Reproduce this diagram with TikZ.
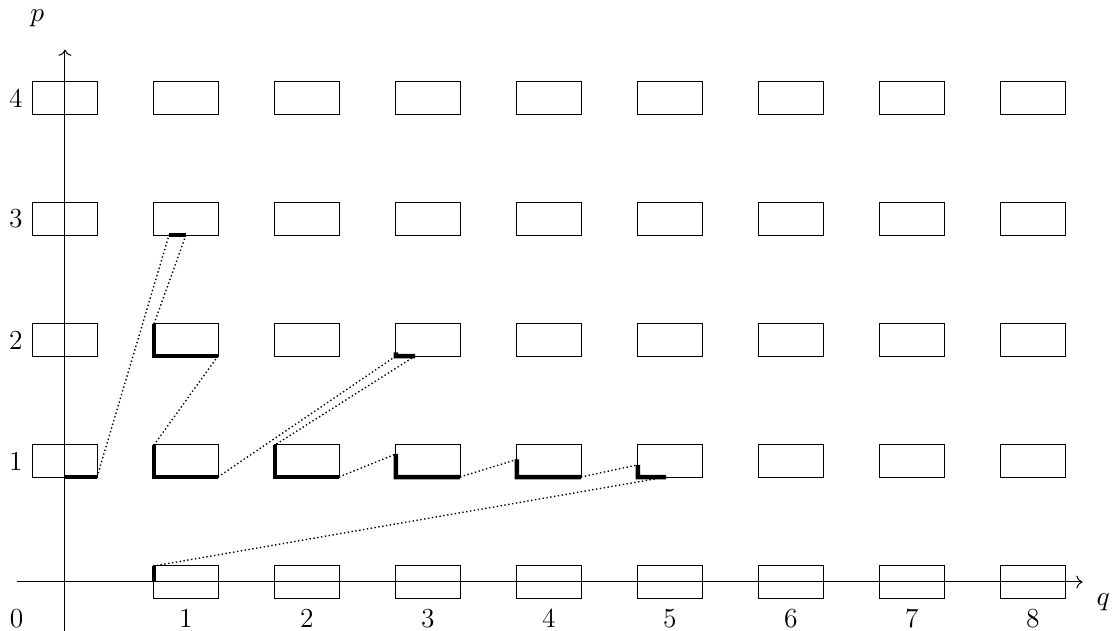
\documentclass[tikz,border=0pt]{standalone}
\usepackage{amsmath}
\usetikzlibrary{arrows.meta, calc}

\begin{document}
\begin{tikzpicture}[
    x=1.7cm, y=1.7cm,
    font=\fontsize{11}{13}\selectfont,
    box/.style={draw, rectangle, minimum width=0.9cm, minimum height=0.45cm,
                inner sep=0pt, outer sep=0pt},
    thk/.style={line width=1.8pt},
    dots/.style={densely dotted, line width=0.55pt},
    axis/.style={->, line width=0.4pt}
]
\useasboundingbox (-0.537,-0.405) rectangle (8.711,4.810);

% the lattice of boxes (none at the origin)
\foreach \q in {0,...,8}
  \foreach \p in {1,...,4}
    \node[box] (b\q\p) at (\q,\p) {};
\foreach \q in {1,...,8}
  \node[box] (b\q0) at (\q,0) {};

% axes
\coordinate (xs) at (-0.4,0);
\coordinate (xe) at (8.41,0);
\coordinate (ys) at (0,-0.41);
\coordinate (ye) at (0,4.40);
\draw[axis] (xs) -- (xe);
\draw[axis] (ys) -- (ye);

\node (lp) at (-0.23,4.66) {$p$};
\node (lq) at (8.58,-0.17) {$q$};
\node (l0) at (-0.4,-0.3) {0};
\foreach \q in {1,...,8}
  \node (lq\q) at (\q,-0.3) {\q};
\foreach \p in {1,...,4}
  \node (lp\p) at (-0.405,\p) {\p};

% thick pieces
\coordinate (s13) at ($(b13.south)+(-0.14,0)$);
\coordinate (s32a) at ($(b32.south west)+(0,0.03)$);
\coordinate (s32) at ($(b32.south west)!0.3!(b32.south east)$);
\coordinate (t31) at ($(b31.north west)!0.28!(b31.south west)$);
\coordinate (t41) at ($(b41.north west)!0.45!(b41.south west)$);
\coordinate (t51) at ($(b51.north west)!0.62!(b51.south west)$);
\coordinate (e51) at ($(b51.south west)!0.44!(b51.south east)$);

\draw[thk] (b01.south) -- (b01.south east);
\draw[thk] (s13) -- (b13.south);
\foreach \q/\p in {1/2, 1/1, 2/1}
  \draw[thk] (b\q\p.north west) -- (b\q\p.south west) -- (b\q\p.south east);
\draw[thk] (s32a) -- (b32.south west) -- (s32);
\draw[thk] (t31) -- (b31.south west) -- (b31.south east);
\draw[thk] (t41) -- (b41.south west) -- (b41.south east);
\draw[thk] (t51) -- (b51.south west) -- (e51);
\draw[thk] (b10.north west) -- (b10.west);

% dotted links
\draw[dots] (b01.south east) -- (s13);
\draw[dots] (b13.south) -- (b12.north west);
\draw[dots] (b12.south east) -- (b11.north west);
\draw[dots] (b11.south east) -- (b32.south west);
\draw[dots] (s32) -- (b21.north west);
\draw[dots] (b21.south east) -- (t31);
\draw[dots] (b31.south east) -- (t41);
\draw[dots] (b41.south east) -- (t51);
\draw[dots] (e51) -- (b10.north west);
\end{tikzpicture}
\end{document}
